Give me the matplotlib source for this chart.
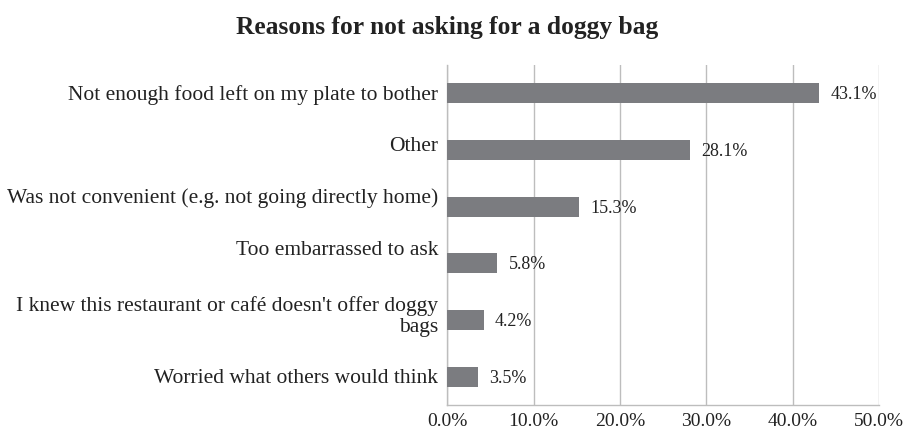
import matplotlib
matplotlib.use('Agg')
import matplotlib.pyplot as plt
from matplotlib.ticker import MultipleLocator, PercentFormatter

plt.rcParams['font.family'] = ['Liberation Serif', 'DejaVu Serif']

TITLE = 'Reasons for not asking for a doggy bag'

reasons = [
    'Not enough food left on my plate to bother',
    'Other',
    'Was not convenient (e.g. not going directly home)',
    'Too embarrassed to ask',
    "I knew this restaurant or café doesn't offer doggy\nbags",
    'Worried what others would think',
]
shares = [43.1, 28.1, 15.3, 5.8, 4.2, 3.5]

# small vertical nudges (points) for the category labels
label_shift = [-1.4, 2.2, 5.8, 9.0, 2.2, -1.4]

BAR_COLOR = '#7b7c80'
GRID_COLOR = '#bdbdbd'
TEXT_COLOR = '#222222'


def main() -> None:
    fig = plt.figure(figsize=(9.04, 4.29), dpi=100)
    ax = fig.add_axes([447.3 / 904, 1 - 405 / 429, (879 - 447.3) / 904, 340 / 429])

    ypos = list(range(len(reasons)))
    ax.barh(ypos, shares, height=0.35, color=BAR_COLOR, zorder=3)
    ax.set_ylim(len(reasons) - 0.5, -0.5)
    ax.set_xlim(0, 50)

    # category labels drawn by hand so each one can be nudged
    ax.set_yticks([])
    for y, name, dy in zip(ypos, reasons, label_shift):
        ax.annotate(name, xy=(0, y), xycoords=('axes fraction', 'data'),
                    xytext=(-6.5, dy), textcoords='offset points',
                    ha='right', va='center', multialignment='right',
                    fontsize=15.5, color=TEXT_COLOR, linespacing=1.15,
                    annotation_clip=False)

    ax.xaxis.set_major_locator(MultipleLocator(10))
    ax.xaxis.set_major_formatter(PercentFormatter(decimals=1))
    ax.tick_params(axis='x', labelsize=14, length=0, pad=6, labelcolor=TEXT_COLOR)

    ax.grid(axis='x', color=GRID_COLOR, linewidth=1, zorder=0)
    for side in ('top', 'right'):
        ax.spines[side].set_visible(False)
    for side in ('left', 'bottom'):
        ax.spines[side].set_color(GRID_COLOR)
        ax.spines[side].set_linewidth(1)

    for y, v in zip(ypos, shares):
        ax.annotate(f'{v:.1f}%', xy=(v, y), xytext=(8, -1), textcoords='offset points',
                    va='center', ha='left', fontsize=13, color=TEXT_COLOR, zorder=4)

    fig.text(0.495, 1 - 27.5 / 429, TITLE, ha='center', va='center',
             fontsize=18.4, fontweight='bold', color=TEXT_COLOR)

    fig.savefig('out.png', dpi=100)


if __name__ == '__main__':
    main()
